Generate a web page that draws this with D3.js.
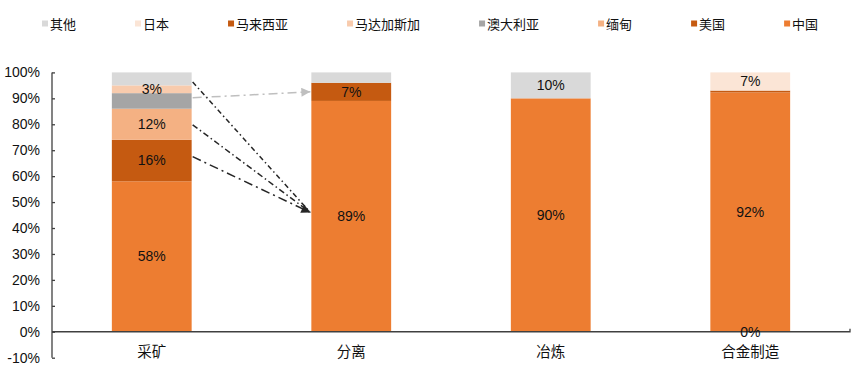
<!DOCTYPE html>
<html><head><meta charset="utf-8">
<script src="https://cdn.jsdelivr.net/npm/d3@7/dist/d3.min.js"></script>
<style>
html,body{margin:0;padding:0;background:#fff;}
text{font-family:"Liberation Sans",Arial,"Noto Sans CJK SC",sans-serif;}
.cjk{font-family:"Noto Sans CJK SC","Liberation Sans",sans-serif;}
</style></head>
<body><svg id="c" width="855" height="387"></svg>
<script>
const categories = ["采矿","分离","冶炼","合金制造"];
const seriesNames = ["中国","美国","缅甸","澳大利亚","马达加斯加","马来西亚","日本","其他"];
const china      = [58, 89, 90, 92.3];
const usa        = [16, 0, 0, 0];
const myanmar    = [12, 0, 0, 0];
const australia  = [6, 0, 0, 0];
const madagascar = [3, 0, 0, 0];
const malaysia   = [0, 7, 0, 0.7];
const japan      = [0, 0, 0, 7];
const other      = [5, 4, 10, 0];
const seriesValues = [china, usa, myanmar, australia, madagascar, malaysia, japan, other];
const colors = ["#ED7D31","#C55A11","#F4B183","#A5A5A5","#F8CBAD","#C55A11","#FBE5D6","#D9D9D9"];
const yTicks = [-10,0,10,20,30,40,50,60,70,80,90,100];
// which [series, category] segments show a data label
const labelled = [[0,0],[1,0],[2,0],[4,0],[0,1],[5,1],[0,2],[7,2],[0,3],[6,3],[1,3]];
// flow arrows: [fromCategory, fromValue, toCategory, toValue, colour, dash]
const arrows = [
  ["采矿", 90.2, "分离", 92.5, "#BFBFBF", "9,4,2,4"],
  ["采矿", 96.3, "分离", 46, "#262626", "5,3,1.5,3"],
  ["采矿", 79.8, "分离", 46, "#262626", "6,3,1.5,3"],
  ["采矿", 67.5, "分离", 46, "#262626", "9,4,2,4"]
];

const svg = d3.select("#c");
const x = d3.scaleBand().domain(categories).range([52, 850]).paddingInner(0.6).paddingOuter(0.3);
const y = d3.scaleLinear().domain([-10, 100]).range([357.7, 72.4]);

const table = categories.map((c, i) => {
  const o = {cat: c};
  seriesNames.forEach((s, k) => o[s] = seriesValues[k][i]);
  return o;
});
const stacked = d3.stack().keys(seriesNames)(table);

// bars
stacked.forEach((layer, k) => {
  svg.append("g").attr("fill", colors[k]).selectAll("rect").data(layer).join("rect")
    .attr("x", d => x(d.data.cat)).attr("width", x.bandwidth())
    .attr("y", d => y(d[1])).attr("height", d => Math.max(0, y(d[0]) - y(d[1])));
});

// y axis
const ya = svg.append("g").attr("transform", "translate(52,0)")
  .call(d3.axisLeft(y).tickValues(yTicks).tickFormat(d => d + "%").tickSize(-3).tickPadding(12));
ya.select(".domain").attr("stroke", "#404040").attr("stroke-width", 1.3).attr("d", `M0,${y(100)}V${y(-10)}`);
ya.selectAll(".tick line").attr("stroke", "#404040").attr("stroke-width", 1.3).attr("x1", 0).attr("x2", 3);
ya.selectAll(".tick text").attr("font-size", 14).attr("fill", "#111").attr("x", -12);

// x axis at 0
const xa = svg.append("g").attr("transform", `translate(0,${y(0)})`)
  .call(d3.axisBottom(x).tickSize(0).tickPadding(15));
xa.select(".domain").attr("stroke", "#404040").attr("stroke-width", 1.3).attr("d", "M52,0H850V-3");
xa.selectAll(".tick text").attr("class", "cjk").attr("font-size", 14.5).attr("fill", "#111");

// data labels (a zero-valued segment is labelled at the baseline)
labelled.forEach(([k, i]) => {
  const d = stacked[k][i];
  const v = seriesValues[k][i];
  const pos = v === 0 ? 0 : (d[0] + d[1]) / 2;
  svg.append("text").attr("x", x(categories[i]) + x.bandwidth() / 2)
    .attr("y", y(pos)).attr("dy", "0.35em").attr("text-anchor", "middle")
    .attr("font-size", 14).attr("fill", "#111")
    .text(Math.floor(v) + "%");
});

// arrows
const defs = svg.append("defs");
arrows.forEach((a, j) => {
  defs.append("marker").attr("id", "m" + j).attr("viewBox", "0 0 10 10")
    .attr("refX", 10).attr("refY", 5).attr("markerWidth", 11).attr("markerHeight", 9)
    .attr("markerUnits", "userSpaceOnUse").attr("orient", "auto")
    .append("path").attr("d", "M0,0L10,5L0,10Z").attr("fill", a[4]);
  svg.append("line")
    .attr("x1", x(a[0]) + x.bandwidth() + 1).attr("y1", y(a[1]))
    .attr("x2", x(a[2]) - 1).attr("y2", y(a[3]))
    .attr("stroke", a[4]).attr("stroke-width", 1.5).attr("stroke-dasharray", a[5])
    .attr("marker-end", j === 0 || j === 3 ? `url(#m${j})` : null);
});

// legend
const legendOrder = [7,6,5,4,3,2,1,0];
let lx = 42;
legendOrder.forEach(k => {
  svg.append("rect").attr("x", lx).attr("y", 20.5).attr("width", 6).attr("height", 6).attr("fill", colors[k]);
  const t = svg.append("text").attr("class", "cjk").attr("x", lx + 8).attr("y", 24).attr("dy", "0.35em")
    .attr("font-size", 13).attr("fill", "#111").text(seriesNames[k]);
  lx += 8 + t.node().getComputedTextLength() + 59;
});
</script></body></html>
